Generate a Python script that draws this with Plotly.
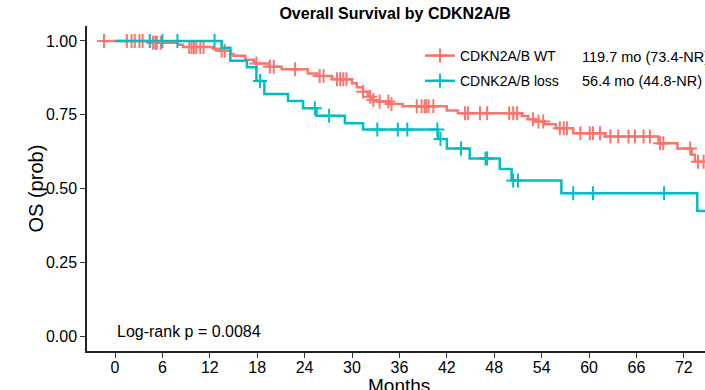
import numpy as np
import plotly.graph_objects as go

# ---------------- data ----------------
group_names = ["CDKN2A/B WT", "CDNK2A/B loss"]
median_text = ["119.7 mo (73.4-NR)", "56.4 mo (44.8-NR)"]
pvalue_text = "Log-rank p = 0.0084"

# CDKN2A/B WT
wt_start = -1.7
wt_end = 76.0
wt_event_times = [4.4, 8.0, 8.6, 12.4, 13.3, 14.6, 15.0, 16.5, 17.6, 19.5, 21.1, 24.4,
                  25.6, 27.5, 30.0, 30.6, 31.4, 32.0, 32.5, 33.2, 34.8, 36.4, 42.0, 43.4,
                  51.5, 52.3, 53.2, 54.4, 55.8, 58.0, 62.0, 68.8, 71.2, 73.0, 73.4]
wt_surv = [0.994, 0.987, 0.980, 0.974, 0.967, 0.956, 0.950, 0.936, 0.924, 0.913, 0.904, 0.890,
           0.881, 0.870, 0.857, 0.843, 0.828, 0.811, 0.800, 0.795, 0.786, 0.779, 0.764, 0.755,
           0.746, 0.735, 0.727, 0.718, 0.704, 0.687, 0.676, 0.653, 0.636, 0.614, 0.591]
wt_censor = [-1.4, 1.5, 2.1, 2.5, 3.1, 3.5, 4.8, 5.1, 5.3, 5.8, 9.4, 9.7, 10.0, 10.3, 10.8,
             11.2, 13.5, 13.9, 17.9, 19.6, 20.1, 22.8, 25.9, 26.4, 28.1, 28.5, 28.9, 29.3,
             31.4, 32.3, 32.7, 33.5, 34.6, 35.0, 38.2, 38.8, 39.2, 39.4, 39.7, 40.3, 44.3,
             44.7, 46.2, 47.1, 49.9, 50.4, 50.9, 52.9, 53.6, 54.2, 56.3, 56.8, 57.2, 58.9,
             60.1, 60.5, 61.4, 62.7, 63.7, 65.0, 65.8, 66.9, 67.7, 69.0, 69.4, 72.8, 73.8,
             74.5, 76.0]

# CDNK2A/B loss
loss_start = 0.0
loss_end = 76.0
loss_event_times = [13.5, 14.6, 16.7, 17.9, 18.9, 21.9, 23.8, 25.5, 29.1, 31.4, 40.9, 42.0,
                    44.9, 48.7, 50.2, 56.5, 73.7]
loss_surv = [0.977, 0.933, 0.911, 0.864, 0.820, 0.797, 0.772, 0.747, 0.721, 0.700, 0.668,
             0.636, 0.602, 0.566, 0.527, 0.484, 0.424]
loss_censor = [4.4, 6.0, 7.9, 12.6, 18.35, 25.3, 27.1, 33.2, 35.8, 37.0, 40.8, 41.2, 43.8,
               46.9, 47.1, 50.4, 51.0, 58.0, 60.5, 69.5]

colors = ["#F8766D", "#00BFC4"]
FONT = "Liberation Sans, Arial, Helvetica, sans-serif"


def step_xy(start, end, times, surv):
    x = [start] + list(times) + [end]
    y = [1.0] + list(surv) + [surv[-1]]
    return x, y


def surv_at(times, surv, t):
    t_arr = np.asarray(times)
    s_arr = np.concatenate([[1.0], np.asarray(surv)])
    idx = np.searchsorted(t_arr, np.asarray(t), side="right")
    return s_arr[idx]


groups = [
    (wt_start, wt_end, wt_event_times, wt_surv, wt_censor),
    (loss_start, loss_end, loss_event_times, loss_surv, loss_censor),
]

fig = go.Figure()
for i, (st, en, et, sv, cz) in enumerate(groups):
    x, y = step_xy(st, en, et, sv)
    fig.add_trace(go.Scatter(x=x, y=y, mode="lines", line=dict(color=colors[i], width=2.5, shape="hv"),
                             showlegend=False, hoverinfo="skip"))
    fig.add_trace(go.Scatter(x=cz, y=surv_at(et, sv, cz), mode="markers",
                             marker=dict(symbol="cross-thin", size=10,
                                         line=dict(color=colors[i], width=2)),
                             showlegend=False, hoverinfo="skip"))

# legend entries
for i, name in enumerate(group_names):
    fig.add_trace(go.Scatter(x=[None], y=[None], mode="lines+markers", name=name,
                             legendgroup=name,
                             line=dict(color=colors[i], width=2.5),
                             marker=dict(symbol="cross-thin", size=10,
                                         line=dict(color=colors[i], width=2))))

x_ticks = list(range(0, 73, 6))
y_ticks = [0.0, 0.25, 0.5, 0.75, 1.0]
y_ticktext = ["0.00", "0.25", "0.50", "0.75", "1.00"]

fig.update_layout(
    width=705, height=390,
    margin=dict(l=87, r=0, t=26, b=39),
    plot_bgcolor="white", paper_bgcolor="white",
    font=dict(family=FONT, color="black"),
    title=dict(text="<b>Overall Survival by CDKN2A/B</b>", x=395 / 705, xanchor="center",
               y=(390 - 13) / 390, yanchor="middle", font=dict(size=16, color="black")),
    legend=dict(x=(420 - 87) / 618, y=(351 - 40) / 325, xanchor="left", yanchor="top",
                font=dict(size=14, color="black"), bgcolor="rgba(0,0,0,0)",
                tracegroupgap=4, itemclick=False),
    xaxis=dict(range=[-3.544, 74.68], tickvals=x_ticks, ticks="outside", ticklen=5,
               tickwidth=1.3, tickcolor="#333333", showline=True, linecolor="#222222",
               linewidth=1.5, showgrid=False, zeroline=False, ticklabelstandoff=-4,
               tickfont=dict(size=16, color="black"), automargin=False),
    yaxis=dict(range=[-0.0508, 1.0508], tickvals=y_ticks, ticktext=y_ticktext,
               ticks="outside", ticklen=5, tickwidth=1.3, tickcolor="#333333",
               showline=True, linecolor="#222222", linewidth=1.5, showgrid=False,
               zeroline=False, tickfont=dict(size=16, color="black"), automargin=False),
)

# axis titles
fig.add_annotation(text="Months", xref="paper", yref="paper", x=0.5, y=0, xanchor="center",
                   yanchor="top", yshift=-22, xshift=3, showarrow=False,
                   font=dict(size=19, color="black"))
fig.add_annotation(text="OS (prob)", xref="paper", yref="paper", x=0, y=0.5, xshift=-52,
                   xanchor="center", yanchor="middle", textangle=-90, showarrow=False,
                   font=dict(size=20, color="black"))

# p-value
fig.add_annotation(text=pvalue_text, xref="x", yref="y", x=0, y=0.017, xanchor="left",
                   yanchor="middle", showarrow=False, font=dict(size=16, color="black"))

# medians next to legend rows
row_px = [57, 81]
for i, txt in enumerate(median_text):
    fig.add_annotation(text=txt, xref="paper", yref="paper", x=(580 - 87) / 618,
                       y=(351 - row_px[i]) / 325, xanchor="left", yanchor="middle",
                       showarrow=False, font=dict(size=14.5, color="black"))

fig.write_html("out.html")
